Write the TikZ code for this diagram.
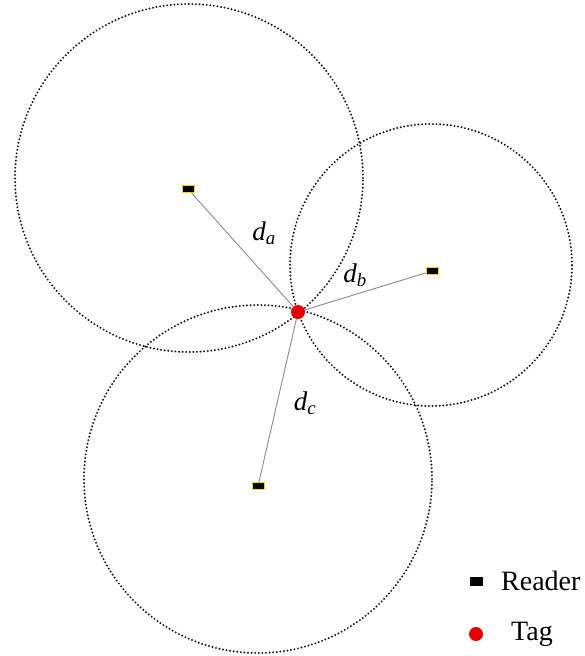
\documentclass[tikz,border=0pt]{standalone}
\usepackage{fontspec}
\setmainfont{Liberation Serif}
\usepackage{tikz}
\usetikzlibrary{positioning}

\begin{document}
\begin{tikzpicture}[
    x=1pt, y=-1pt,
    rangecirc/.style={draw=black!90, line width=2.2pt, line cap=round, dash pattern=on 0pt off 3.6pt},
    reader/.style={rectangle, fill=black, draw=yellow!70!orange, line width=0.6pt, minimum width=12pt, minimum height=7pt, inner sep=0pt},
    tagdot/.style={circle, fill=red!90!black, minimum size=14pt, inner sep=0pt},
    distline/.style={draw=black!45, line width=0.9pt},
    lbl/.style={font=\fontsize{27}{30}\selectfont\itshape, inner sep=1pt},
    legtext/.style={font=\fontsize{28}{30}\selectfont, inner sep=0pt}
]
    \useasboundingbox (0,0) rectangle (584,656);

    % range circles
    \draw [rangecirc] (189,178) circle [radius=174pt];
    \draw [rangecirc] (431,265) circle [radius=141pt];
    \draw [rangecirc] (258,479) circle [radius=174pt];

    % readers and tag
    \node (ra) [reader] at (188,189) {};
    \node (rb) [reader] at (432,271) {};
    \node (rc) [reader] at (258,486) {};
    \node (tg) [tagdot] at (298,312) {};

    \draw [distline] (ra) -- (tg);
    \draw [distline] (rb) -- (tg);
    \draw [distline] (rc) -- (tg);

    \node (da) [lbl] at (264,233) {d\textsubscript{a}};
    \node (db) [lbl] at (355,275) {d\textsubscript{b}};
    \node (dc) [lbl] at (305,403) {d\textsubscript{c}};

    % legend
    \node (lr) [reader, minimum width=13pt, minimum height=9pt, draw=none] at (476,581) {};
    \node (lrt) [legtext, right=25pt of lr.center, anchor=west] {Reader};
    \node (lt) [tagdot] at (476,634) {};
    \node (ltt) [legtext, right=35pt of lt.center, anchor=west] {Tag};
\end{tikzpicture}
\end{document}
